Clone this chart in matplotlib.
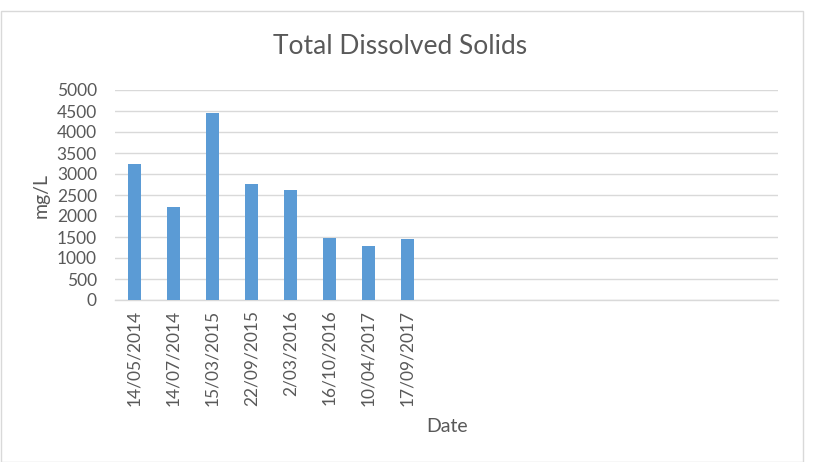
import matplotlib
matplotlib.use("Agg")
import matplotlib.pyplot as plt
from matplotlib.patches import Rectangle

dates = ["14/05/2014", "14/07/2014", "15/03/2015", "22/09/2015",
         "2/03/2016", "16/10/2016", "10/04/2017", "17/09/2017"]
tds = [3230, 2205, 4460, 2760, 2610, 1475, 1295, 1445]
n_slots = 17
yticks = [0, 500, 1000, 1500, 2000, 2500, 3000, 3500, 4000, 4500, 5000]

plt.rcParams['font.family'] = ['Lato', 'DejaVu Sans']
gray = '#595959'

W, H = 818, 462
fig = plt.figure(figsize=(W / 100, H / 100), dpi=100)
fig.patch.set_facecolor('white')
fig.patches.append(Rectangle((1 / W, 0), 802 / W, 1 - 11 / H, transform=fig.transFigure,
                             fill=False, edgecolor='#d9d9d9', linewidth=1))

ax = fig.add_axes([115 / W, 1 - 300 / H, (778 - 115) / W, (300 - 90) / H])
x = list(range(n_slots))
ax.bar(x[:len(tds)], tds, width=0.31, color='#5b9bd5', zorder=3)
ax.set_xlim(-0.5, n_slots - 0.5)
ax.set_ylim(0, 5000)
ax.set_yticks(yticks)
ax.set_yticklabels([str(v) for v in yticks], fontsize=12.5, color=gray)
ax.set_xticks(x[:len(dates)])
ax.set_xticklabels(dates, rotation=90, fontsize=12.5, color=gray)
ax.tick_params(axis='both', length=0)
ax.tick_params(axis='x', pad=7)
ax.tick_params(axis='y', pad=13)
ax.grid(axis='y', color='#d9d9d9', linewidth=1, zorder=0)
for s in ['top', 'right', 'left']:
    ax.spines[s].set_visible(False)
ax.spines['bottom'].set_color('#d9d9d9')
ax.spines['bottom'].set_linewidth(1)

fig.text(400 / W, 1 - 47 / H, "Total Dissolved Solids", ha='center', va='center',
         fontsize=19, color=gray)
fig.text(447 / W, 1 - 426 / H, "Date", ha='center', va='center', fontsize=14, color=gray)
fig.text(41 / W, 1 - 195 / H, "mg/L", ha='center', va='center', rotation=90,
         fontsize=14, color=gray)

fig.savefig("out.png", dpi=100)
